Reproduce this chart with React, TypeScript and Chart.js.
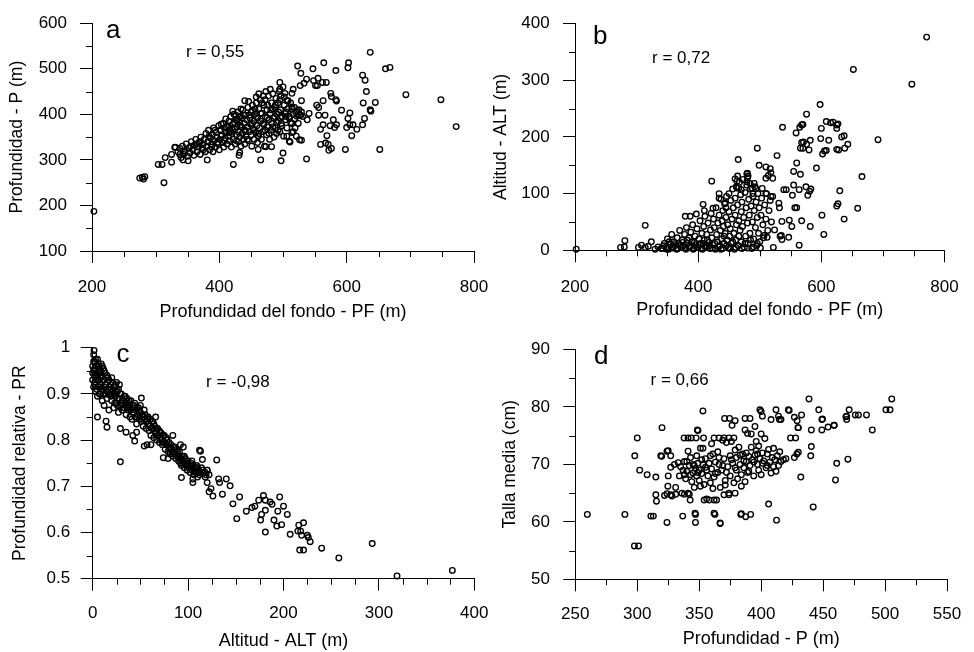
import React, { useEffect, useRef } from "react";
import { Chart, registerables } from "chart.js";

Chart.register(...registerables);

const FONT = "'Liberation Sans', Arial, Helvetica, sans-serif";
const LETTER_FONT = "'Liberation Sans Narrow', 'Liberation Sans', Arial, sans-serif";

const panelLetters = ["a", "b", "c", "d"];
const correlationLabels = ["r = 0,55", "r = 0,72", "r = -0,98", "r = 0,66"];
const xAxisTitles = [
  "Profundidad del fondo - PF (m)",
  "Profundidad del fondo - PF (m)",
  "Altitud - ALT (m)",
  "Profundidad - P (m)",
];
const yAxisTitles = [
  "Profundidad - P (m)",
  "Altitud - ALT (m)",
  "Profundidad relativa - PR",
  "Talla media (cm)",
];

// Panel a: PF (x) vs P (y)
const aPoints: number[][] = [
  [203,187],[275,260],[279,262],[281,258],[283,263],[313,250],[304,290],[310,290],[315,305],[325,295],[325,312],[331,328],[338,312],[343,300],[351,298],[381,300],[422,290],[431,310],[432,316],[440,430],[421,407],[465,300],[461,323],[473,329],[482,329],[497,298],[500,315],[506,352],[510,341],[516,362],[521,352],[514,380],[526,344],[529,343],[537,302],[529,430],[523,506],[528,490],[547,500],[564,513],[583,496],[603,513],[602,502],[637,536],[661,500],[668,503],[693,443],[748,432],[772,373],[652,323],[598,323],[625,486],[629,475],[631,450],[626,425],[645,426],[637,410],[638,407],[628,391],[625,377],[616,367],[610,377],[605,377],[608,353],[605,403],[600,371],[602,391],[592,409],[575,446],[576,439],[583,432],[584,429],[579,388],[581,371],[574,375],[584,377],[569,353],[567,337],[571,334],[572,321],[576,325],[559,334],[559,367],[563,377],[566,398],[556,398],[563,430],[553,420],[556,415],[568,470],[562,470],[554,463],[551,463],[555,479],[548,474],[537,477],[533,468],[527,463],[516,455],[514,446],[495,470],[495,455],[503,446],[506,430],[514,416],[529,405],[538,388],[541,402],[503,402],[510,391],
  [330,327],[511,339],[514,360],[488,420],[495,432],[502,438],[507,412],[512,425],[518,415],[522,408],[526,398],[531,395],[505,395],[497,380],[492,365],[484,412],[519,370],[524,380],
  [335,318],[338,325],[340,305],[342,330],[344,312],[346,320],[348,335],[350,308],[352,326],[354,315],[356,340],[358,322],
  [360,310],[361,332],[363,345],[365,318],[366,328],[368,338],[370,312],[371,350],[373,325],[375,335],[376,345],[378,318],[379,358],[380,330],[382,340],[383,365],[385,322],[386,348],[388,335],[389,355],[390,318],[391,370],
  [392,342],[394,328],[395,360],[396,350],[398,335],[399,375],[400,322],[401,345],[402,365],[404,355],[405,338],[406,380],[407,328],[408,370],[409,348],[410,360],[410,390],
  [412,335],[413,375],[414,352],[415,385],[416,342],[417,365],[418,395],[419,328],[420,358],[421,378],[422,345],[423,400],[424,368],[425,335],[426,388],[427,355],[428,372],[429,405],[430,340],[430,362],
  [431,385],[432,350],[433,395],[434,330],[435,372],[436,358],[437,410],[438,345],[439,380],[440,365],[440,335],[441,398],[442,352],[443,388],[444,372],[445,415],[446,342],[447,362],[448,392],[449,378],[450,355],[450,405],
  [451,330],[452,420],[453,368],[454,385],[455,345],[456,400],[457,360],[458,425],[459,375],[460,338],[460,392],[461,352],[462,412],[463,370],[464,432],[465,385],[466,345],[467,402],[468,362],[469,440],[470,378],[470,420],
  [471,330],[472,395],[473,450],[474,355],[475,410],[476,372],[477,440],[478,388],[479,345],[480,455],[480,402],[481,365],[482,425],[483,380],[484,445],[485,392],[486,350],[487,415],[488,370],[489,435],[490,400],[490,358],
  [492,425],[493,385],[494,450],[495,362],[496,410],[497,440],[498,375],[499,395],[500,460],[501,352],[502,420],[504,388],[505,405],[506,370],[508,430],[510,395],[512,382],[514,412],[516,400],[518,390],[520,405],[522,396],[525,410],[528,398],
  [403,352],[411,372],[418,362],[424,382],[427,342],[433,376],[436,392],[441,362],[444,345],[447,398],[452,380],[455,365],[458,395],[462,358],[465,402],[468,380],[472,365],[475,392],[478,358],[481,410],[484,372],[487,395],[490,382],[493,405],[496,392],[467,425],[472,432],[462,445],[458,438],[452,408],[446,428],[438,398],[428,388],[420,370],[415,360],[408,342],[397,338],[388,328],[375,322],[365,335],[355,330],[345,316],[370,340],[384,352],[393,365],[403,378],[426,398],[434,412],[456,412],[476,420],
];

// Panel b: PF (x) vs ALT (y)
const bPoints: number[][] = [
  [202,2],[274,5],[280,6],[281,17],[314,44],[303,5],[308,9],[314,5],[324,15],[319,7],[330,2],[335,6],[340,3],[379,60],[387,60],[397,64],[410,70],[408,81],[422,122],[424,74],[465,160],[464,131],[480,136],[481,131],[491,118],[494,109],[496,180],[499,150],[510,147],[517,144],[518,137],[510,127],[514,132],[521,127],[528,167],[537,217],[543,107],[539,107],[536,51],[524,36],[522,5],[547,23],[533,25],[536,19],[553,97],[564,107],[557,75],[560,75],[548,53],[552,42],[555,139],[560,154],[566,134],[555,115],[559,207],[565,217],[568,221],[570,222],[568,190],[571,191],[576,187],[566,180],[570,180],[580,177],[576,240],[582,194],[575,112],[578,97],[581,104],[583,108],[568,52],[582,42],[564,9],[592,145],[598,257],[600,215],[599,197],[602,170],[605,175],[608,176],[608,227],[612,194],[615,225],[619,226],[625,221],[625,215],[627,223],[625,178],[628,177],[633,200],[637,202],[638,180],[643,187],[601,62],[604,28],[630,105],[625,78],[627,82],[637,55],[659,74],[666,130],[652,319],[692,195],[747,293],[771,376],
  [434,100],[434,92],[444,83],[445,75],[462,112],[466,110],[470,107],[479,135],[480,128],[479,121],[460,126],[463,122],[484,118],[488,109],[489,100],[504,109],[510,100],[518,95],[531,83],[532,75],[507,26],[512,23],[535,26],
  [342,3],[345,12],[348,6],[350,20],[352,2],[355,10],[357,28],[358,4],[360,15],[362,8],[365,2],[366,22],[368,12],[370,35],[372,5],[374,18],[376,8],[378,28],[380,2],[381,40],[383,12],[385,22],[386,5],[388,32],[390,15],[391,45],[393,3],[395,25],[396,10],[398,38],[400,5],[401,20],[403,52],[404,12],[406,30],[407,2],[409,42],[410,18],[411,60],[413,8],[414,28],[416,48],[417,14],[419,3],[420,36],[421,65],[422,22],[424,10],[425,55],[426,40],[428,2],[429,75],[430,28],[431,15],[432,48],[434,62],[435,8],[436,35],[437,90],[438,20],[439,52],[440,3],[440,70],[441,42],[442,12],[443,82],[444,30],[445,58],[446,95],[447,18],[448,45],[449,5],[450,68],[450,100],[451,25],[452,38],[453,88],[454,12],[455,55],[456,108],[457,75],[458,30],[459,2],[460,62],[460,92],[461,18],[462,45],[463,110],[464,80],[465,8],[466,52],[467,120],[468,35],[469,98],[470,68],[470,15],[471,85],[472,42],[473,125],[474,58],[475,5],[476,102],[477,25],[478,75],[479,115],[480,48],[481,12],[482,90],[483,62],[484,30],[485,108],[486,78],[487,3],[488,50],[489,95],[490,20],[491,70],[492,112],[493,40],[494,85],[495,8],[496,58],[497,100],[498,30],[499,75],[500,15],[502,62],[503,92],[505,45],[506,22],[508,80],[510,55],[511,100],[513,35],[515,70],[517,88],[519,50],[521,95],
  [344,8],[349,2],[353,15],[359,6],[363,12],[367,3],[371,9],[375,14],[379,5],[382,18],[387,8],[392,2],[394,14],[397,6],[402,10],[405,3],[408,12],[412,5],[415,18],[418,8],[423,4],[427,12],[433,6],[437,2],[442,25],[446,8],[451,3],[456,15],[461,5],[466,25],[471,3],[476,12],[480,4],[485,18],[490,6],[496,12],[501,4],
];

// Panel c: ALT (x) vs PR (y)
const cPoints: number[][] = [
  [1.4,0.994],[29,0.753],[5,0.85],[14,0.841],[15,0.828],[29,0.825],[35,0.817],[42,0.81],[44,0.798],[54,0.787],[46,0.817],[93,0.719],[105,0.716],[105,0.708],[112,0.778],[115,0.758],[130,0.757],[120,0.708],[122,0.688],[126,0.679],[124,0.695],[132,0.716],[133,0.708],[136,0.683],[140,0.716],[144,0.701],[147,0.662],[151,0.63],[154,0.677],[161,0.646],[167,0.654],[170,0.657],[174,0.67],[179,0.68],[181,0.67],[176,0.627],[177,0.639],[181,0.648],[181,0.601],[186,0.666],[188,0.661],[190,0.627],[194,0.646],[196,0.677],[193,0.614],[198,0.617],[200,0.657],[204,0.639],[207,0.596],[216,0.616],[215,0.603],[218,0.603],[219,0.594],[217,0.562],[221,0.562],[221,0.621],[225,0.594],[226,0.589],[228,0.58],[240,0.566],[258,0.545],[293,0.576],[319,0.506],[377,0.518],[74,0.762],[79,0.76],[92,0.79],[95,0.785],[110,0.74],[118,0.73],
  [51,0.891],[66,0.85],[84,0.81],[57,0.79],[61,0.79],[120,0.735],[113,0.776],
  [0,0.93],[0,0.96],[1,0.985],[1,0.95],[2,0.925],[2,0.97],[3,0.94],[3,0.905],[4,0.96],[4,0.93],[5,0.895],[5,0.975],[6,0.945],[6,0.915],[7,0.96],[7,0.93],[8,0.9],[8,0.95],[9,0.92],[9,0.965],[10,0.94],[10,0.885],[11,0.91],[11,0.955],[12,0.93],[12,0.875],[13,0.9],[13,0.945],[14,0.92],[15,0.94],[15,0.89],[16,0.91],[17,0.93],[17,0.865],[18,0.9],[19,0.92],[20,0.885],[20,0.935],[21,0.905],[22,0.87],[23,0.915],[24,0.895],[25,0.88],[25,0.925],[26,0.905],[27,0.86],[28,0.89],[28,0.92],[29,0.875],[30,0.9],[31,0.865],[32,0.885],[33,0.87],[34,0.895],[35,0.855],[35,0.88],[36,0.89],[37,0.865],[38,0.875],[39,0.85],[40,0.885],[40,0.865],[41,0.845],[42,0.875],[43,0.86],[44,0.88],[45,0.85],[45,0.865],[46,0.835],[47,0.87],[48,0.855],[49,0.845],[50,0.875],[50,0.86],[51,0.84],[52,0.855],[53,0.83],[54,0.865],[55,0.845],[56,0.825],[57,0.85],[58,0.835],[59,0.82],[60,0.845],[60,0.83],[61,0.81],[62,0.84],[63,0.825],[64,0.805],[65,0.83],[66,0.815],[67,0.8],[68,0.825],[69,0.81],[70,0.795],[70,0.82],[71,0.805],[72,0.815],[73,0.79],[74,0.81],[75,0.795],[76,0.78],[77,0.805],[78,0.79],[79,0.775],[80,0.795],[80,0.785],[81,0.77],[82,0.79],[83,0.775],[84,0.765],[85,0.785],[86,0.77],[87,0.76],[88,0.78],[89,0.765],[90,0.755],[91,0.775],[92,0.76],[93,0.745],[94,0.765],[95,0.75],[96,0.74],[97,0.76],[98,0.745],[99,0.735],[100,0.755],[101,0.74],[102,0.73],[103,0.75],[104,0.735],[105,0.745],[106,0.725],[107,0.74],[108,0.73],[109,0.745],[110,0.72],[111,0.735],[112,0.725],[114,0.74],[116,0.73],[118,0.72],[120,0.735],[122,0.725],
  [0,0.945],[1,0.915],[2,0.955],[3,0.975],[4,0.91],[5,0.94],[6,0.965],[7,0.9],[8,0.935],[9,0.91],[10,0.96],[11,0.93],[12,0.95],[13,0.92],[14,0.9],[16,0.935],[18,0.915],[19,0.895],[21,0.925],[22,0.9],[23,0.88],[24,0.92],[26,0.89],[27,0.91],[29,0.9],[31,0.885],[33,0.895],[36,0.87],[38,0.885],[42,0.86],[44,0.87],[47,0.855],[49,0.865],[53,0.85],[56,0.84],[58,0.85],[62,0.825],[64,0.835],[66,0.82],[68,0.81],[72,0.8],[75,0.81],[78,0.8],[82,0.78],[86,0.785],[89,0.775],[92,0.75],[96,0.765],[99,0.75],[102,0.745],[104,0.755],[108,0.74],[112,0.73],[115,0.735],[119,0.725],
  [1,0.97],[2,0.94],[3,0.92],[4,0.945],[6,0.93],[7,0.945],[8,0.915],[9,0.94],[11,0.9],[12,0.915],[14,0.935],[15,0.905],[17,0.9],[19,0.91],[20,0.9],[22,0.915],[24,0.905],[26,0.875],[30,0.88],[32,0.87],[34,0.88],[37,0.88],[39,0.87],[43,0.875],[46,0.85],[48,0.87],[52,0.845],[55,0.855],[59,0.835],[63,0.84],[67,0.825],[71,0.815],[74,0.795],[77,0.79],[81,0.78],[85,0.775],[88,0.77],[91,0.765],[94,0.755],[97,0.75],[100,0.745],[103,0.74],[106,0.735],[110,0.73],
];

// Panel d: P (x) vs Talla media (y)
const dPoints: number[][] = [
  [259.7,61.3],[290,61.3],[297.7,55.8],[301,55.8],[298,71.5],[300,74.6],[302,69],[308,68.2],[311,61],[313,61],[315,67.8],[315,64.7],[315.5,63.6],[320,76.4],[319,71.5],[324,72.3],[327,71.5],[324,59.9],[322,64.6],[324.7,66.2],[324,64.9],[327,64.7],[336.7,61],[337.8,74.6],[341,74.6],[343.5,74.6],[347.5,74.6],[341,72.3],[347,61.3],[347,59.9],[349,75.9],[353,79.3],[353.5,74.6],[362.7,61.3],[367,59.7],[370.5,78],[374.5,78],[379,77.6],[376.5,76.8],[383.6,61.3],[387.5,60.9],[391.5,61.3],[387,78],[391,78],[392,75.3],[395,76.6],[399,79.5],[400,79.2],[401,78.4],[406,63.1],[412.4,60.3],[412,79.5],[414,78.4],[416,77.8],[422,79.5],[426.8,78.2],[429,77.6],[432.6,78.6],[438.6,81.4],[446.5,79.5],[449,77.8],[454,76.5],[459,76.8],[449,76],[440.5,76],[440,71.5],[440.5,73.1],[432,67.8],[442,62.6],[461,70.2],[460,67.3],[469,78.4],[469,77.8],[471,79.5],[470,70.9],[476,78.6],[478.5,78.6],[485,78.6],[489.7,76],[500.7,79.5],[504,79.5],[505.4,81.4],[423.7,74.6],[426.8,71.2],[430,72.1],[430,76.4],[348.5,76],[362,74.6],[366,74.6],[370,74.6],[374,74.6],[378,74.6],[325,72.4],[319.7,71.4],[353,72.8],[342,64.8],[338,64.8],[331,64.8],[342.7,63.8],[354,63.8],[358,63.8],[362,63.8],[370,64.7],[374,64.7],[379,65],[346.6,61.5],[362,61.5],[366.8,59.8],[384,61.4],[408,77.8],[414.7,77.8],[400,75.3],[422.6,79.4],[387,76],[389,75.4],[396,74],[468.4,78.3],[449.5,77.9],[458.7,76.8],[429.7,76.4],[427.8,74.6],[428.8,71.8],
  [325,68],[327,69.5],[328,64.5],[330,70],[331,66],[333,70.3],[334,68],[336,65],[337,69],[338,70.5],[339,67.5],[340,68.8],[341,65],[342,69.8],[343,71.2],[344,67],[345,68.5],[345,70],[346,66],[347,69.3],[348,68],[348,71.5],[349,70.2],[350,67.2],[350,69],[351,72.8],[352,68.4],[353,70],[354,66.5],[355,69.5],[355,71],[356,64],[357,68],[358,70.2],[359,66.8],[360,69.2],[360,73.6],[361,71.8],[362,67.8],[363,70.4],[364,63.8],[365,68.6],[365,72.2],[366,70],[367,66],[368,69],[369,74.2],[370,71],[371,67.2],[372,73.8],[373,69.6],[374,65],[375,71.5],[375,68],[376,74],[377,70.2],[378,66.8],[379,72.5],[380,69],[380,71.2],[381,67.5],[382,73],[383,70],[384,68.2],[385,71.8],[386,69.4],[387,67],[388,72],[388,70.5],[389,68.6],[390,71.4],[391,69.8],[392,73],[393,70.8],[394,68],[395,71.6],[396,72.4],[397,70],[398,69],[398,73.2],[399,71],[400,68.2],[401,72],[402,70.6],[403,74.5],[404,69.4],[405,71.8],[406,72.6],[407,70.4],[408,68.5],[409,71.2],[410,69.6],[410,72.8],[411,70.8],[412,68.8],[413,71.5],[414,69.8],[415,72.2],[416,70.5],[418,70.8],[420,71],
  [340,70.5],[343,68.2],[346,69.8],[349,68.6],[352,70.8],[356,69],[359,71.5],[363,68.4],[366,71.2],[369,69.8],[372,68.6],[376,70.8],[379,69.4],[383,71.6],[386,70.6],[390,68.8],[394,70.4],[397,71.8],[401,70.2],[405,69.8],[338,68.2],[335,69.6],[351,66.2],[361,65.8],[371,66.4],[384,66.2],
];

type PanelCfg = {
  left: number; top: number; w: number; h: number;
  padTop: number; padRight: number; yWidth: number; xHeight: number;
  xMin: number; xMax: number; xStep: number; xMinor: number;
  yMin: number; yMax: number; yStep: number; yMinor: number;
  xTickPad: number; yTickPad: number; xTitlePad: number; yTitlePad: number;
  letterPos: number[]; rPos: number[];
  points: number[][]; idx: number;
};

const panels: PanelCfg[] = [
  { left: 0, top: 0, w: 520, h: 326, padTop: 18, padRight: 46, yWidth: 92, xHeight: 75,
    xMin: 200, xMax: 800, xStep: 200, xMinor: 50, yMin: 100, yMax: 600, yStep: 100, yMinor: 50,
    xTickPad: 14, yTickPad: 13, xTitlePad: 3.5, yTitlePad: 6.2, letterPos: [106, 38], rPos: [186, 52],
    points: aPoints, idx: 0 },
  { left: 487, top: 0, w: 487, h: 326, padTop: 18, padRight: 17.7, yWidth: 88, xHeight: 75.7,
    xMin: 200, xMax: 800, xStep: 200, xMinor: 50, yMin: 0, yMax: 400, yStep: 100, yMinor: 50,
    xTickPad: 15.3, yTickPad: 13.3, xTitlePad: 4.7, yTitlePad: 3.5, letterPos: [106, 44], rPos: [165, 58],
    points: bPoints, idx: 1 },
  { left: 0, top: 326, w: 520, h: 326, padTop: 21.7, padRight: 45.7, yWidth: 92.7, xHeight: 73.3,
    xMin: 0, xMax: 400, xStep: 100, xMinor: 25, yMin: 0.5, yMax: 1, yStep: 0.1, yMinor: 0.05,
    xTickPad: 12.9, yTickPad: 10.5, xTitlePad: 0.2, yTitlePad: 9.8, letterPos: [116.5, 36], rPos: [206, 56.7],
    points: cPoints, idx: 2 },
  { left: 487, top: 326, w: 487, h: 326, padTop: 20.7, padRight: 17, yWidth: 88.3, xHeight: 72.7,
    xMin: 250, xMax: 550, xStep: 50, xMinor: 25, yMin: 50, yMax: 90, yStep: 10, yMinor: 5,
    xTickPad: 12.8, yTickPad: 13.3, xTitlePad: 1.7, yTitlePad: 12.2, letterPos: [107, 38], rPos: [163.5, 54.7],
    points: dPoints, idx: 3 },
];

const isMultiple = (v: number, step: number) => Math.abs(v / step - Math.round(v / step)) < 1e-6;

const decorPlugin = {
  id: "panelDecor",
  afterDraw(chart: any, _args: any, opts: any) {
    const { ctx, chartArea } = chart;
    const xs = chart.scales.x;
    const ys = chart.scales.y;
    ctx.save();
    ctx.strokeStyle = "#000";
    ctx.lineWidth = 1;
    ctx.beginPath();
    for (let k = 0; ; k++) {
      const v = opts.xMin + k * opts.xMinor;
      if (v > opts.xMax + 1e-9) break;
      if (isMultiple(v, opts.xStep)) continue;
      const px = Math.round(xs.getPixelForValue(v)) + 0.5;
      ctx.moveTo(px, chartArea.bottom);
      ctx.lineTo(px, chartArea.bottom + 6);
    }
    for (let k = 0; ; k++) {
      const v = opts.yMin + k * opts.yMinor;
      if (v > opts.yMax + 1e-9) break;
      if (isMultiple(v, opts.yStep)) continue;
      const py = Math.round(ys.getPixelForValue(v)) + 0.5;
      ctx.moveTo(chartArea.left - 6, py);
      ctx.lineTo(chartArea.left, py);
    }
    ctx.stroke();
    ctx.fillStyle = "#000";
    ctx.textAlign = "left";
    ctx.textBaseline = "alphabetic";
    ctx.font = `26px ${LETTER_FONT}`;
    ctx.fillText(opts.letter, opts.letterPos[0], opts.letterPos[1]);
    ctx.textBaseline = "middle";
    ctx.font = `17px ${FONT}`;
    ctx.fillText(opts.rText, opts.rPos[0], opts.rPos[1]);
    ctx.restore();
  },
};

const fmt = (v: any) => String(Math.round(Number(v) * 1000) / 1000);

function Panel({ cfg }: { cfg: PanelCfg }) {
  const ref = useRef<HTMLCanvasElement>(null);
  useEffect(() => {
    if (!ref.current) return;
    const chart = new Chart(ref.current, {
      type: "scatter",
      data: {
        datasets: [
          {
            data: cfg.points.map(([x, y]) => ({ x, y })),
            pointRadius: 2.8,
            pointHoverRadius: 2.8,
            pointBorderWidth: 1.35,
            pointBorderColor: "#000",
            pointBackgroundColor: "rgba(0,0,0,0)",
            borderColor: "#000",
            backgroundColor: "rgba(0,0,0,0)",
            clip: false as any,
          },
        ],
      },
      options: {
        responsive: false,
        maintainAspectRatio: false,
        animation: false,
        events: [],
        layout: { padding: { top: cfg.padTop, right: cfg.padRight, left: 0, bottom: 0 } },
        plugins: {
          legend: { display: false },
          tooltip: { enabled: false },
          panelDecor: {
            xMin: cfg.xMin, xMax: cfg.xMax, xStep: cfg.xStep, xMinor: cfg.xMinor,
            yMin: cfg.yMin, yMax: cfg.yMax, yStep: cfg.yStep, yMinor: cfg.yMinor,
            letter: panelLetters[cfg.idx], letterPos: cfg.letterPos,
            rText: correlationLabels[cfg.idx], rPos: cfg.rPos,
          },
        } as any,
        scales: {
          x: {
            type: "linear",
            position: "bottom",
            min: cfg.xMin,
            max: cfg.xMax,
            afterFit: (s: any) => { s.height = cfg.xHeight; },
            border: { display: true, color: "#000", width: 1 },
            grid: { display: true, drawOnChartArea: false, drawTicks: true, tickLength: 12, tickColor: "#000", tickWidth: 1 },
            ticks: { stepSize: cfg.xStep, padding: cfg.xTickPad, color: "#000", font: { family: FONT, size: 17 }, maxRotation: 0, autoSkip: false, callback: fmt },
            title: { display: true, text: xAxisTitles[cfg.idx], color: "#000", font: { family: FONT, size: 18 }, padding: { top: 0, bottom: cfg.xTitlePad } },
          },
          y: {
            type: "linear",
            position: "left",
            min: cfg.yMin,
            max: cfg.yMax,
            afterFit: (s: any) => { s.width = cfg.yWidth; },
            border: { display: true, color: "#000", width: 1 },
            grid: { display: true, drawOnChartArea: false, drawTicks: true, tickLength: 12, tickColor: "#000", tickWidth: 1 },
            ticks: { stepSize: cfg.yStep, padding: cfg.yTickPad, color: "#000", font: { family: FONT, size: 17 }, autoSkip: false, callback: fmt },
            title: { display: true, text: yAxisTitles[cfg.idx], color: "#000", font: { family: FONT, size: 17.5 }, padding: { top: cfg.yTitlePad, bottom: 0 } },
          },
        } as any,
      },
      plugins: [decorPlugin as any],
    });
    return () => chart.destroy();
  }, []);
  return (
    <canvas
      ref={ref}
      width={cfg.w}
      height={cfg.h}
      style={{ position: "absolute", left: cfg.left, top: cfg.top, width: cfg.w, height: cfg.h }}
    />
  );
}

export default function App() {
  return (
    <div style={{ position: "absolute", left: 0, top: 0, width: 974, height: 652, background: "#fff", overflow: "hidden" }}>
      {panels.map((p) => (
        <Panel key={p.idx} cfg={p} />
      ))}
    </div>
  );
}
